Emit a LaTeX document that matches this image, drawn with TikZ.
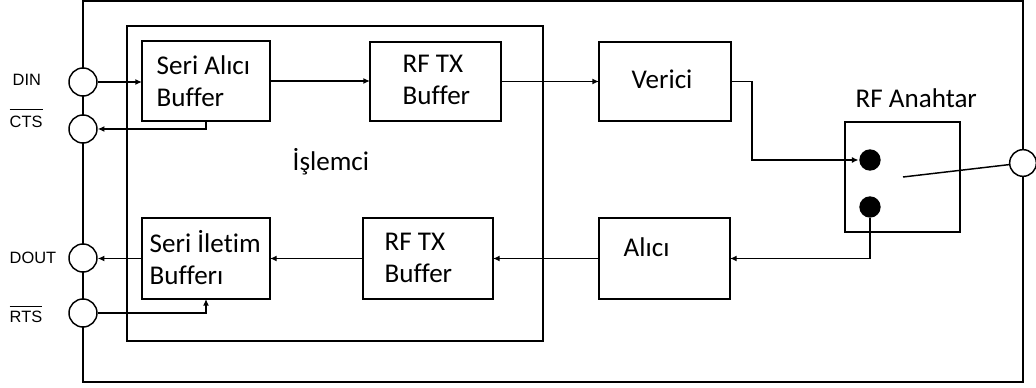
\documentclass[tikz,border=0pt]{standalone}
\usepackage{fontspec}
\setmainfont{Carlito}[Ligatures=CommonOff]
\newfontfamily\labfont{Liberation Sans}
\usetikzlibrary{arrows.meta}
\begin{document}
\begin{tikzpicture}[x=0.75pt,y=-0.75pt,
  line width=1.1pt,
  blk/.style={draw, line width=1.1pt, inner sep=0, outer sep=0},
  txt/.style={font=\fontsize{20.3}{24.5}\selectfont, anchor=base west, inner sep=0, align=left},
  pin/.style={circle, draw, fill=white, minimum size=21pt, inner sep=0, line width=1.1pt},
  dotc/.style={circle, fill=black, minimum size=16pt, inner sep=0},
  lab/.style={font=\labfont\fontsize{12.3}{13}\selectfont, anchor=base west, inner sep=0},
  arr/.style={-{Latex[length=5pt,width=4.5pt]}}
]
\useasboundingbox (0,0) rectangle (1036,388);
% outer module and processor
\node[blk, minimum width=705pt, minimum height=285.75pt] (modul) at (553,191.5) {};
\node[blk, minimum width=312pt, minimum height=236.25pt] (cpu) at (335,183.5) {};
% blocks
\node[blk, minimum width=96pt, minimum height=60pt] (sa) at (206,81) {};
\node[blk, minimum width=98.25pt, minimum height=59.25pt] (tx1) at (435.5,81.5) {};
\node[blk, minimum width=99pt, minimum height=59.25pt] (ver) at (665,81.5) {};
\node[blk, minimum width=96pt, minimum height=60.75pt] (si) at (206,258.5) {};
\node[blk, minimum width=97.5pt, minimum height=60.75pt] (tx2) at (428,258.5) {};
\node[blk, minimum width=98.25pt, minimum height=60.75pt] (ali) at (664.5,258.5) {};
\node[blk, minimum width=86.25pt, minimum height=82.5pt] (sw) at (902.5,177) {};
% pins
\node[pin] (din) at (83,82) {};
\node[pin] (cts) at (83,129) {};
\node[pin] (dout) at (83,258) {};
\node[pin] (rts) at (83,313) {};
\node[pin, minimum size=20pt] (ant) at (1023,163) {};
% switch contacts
\node[dotc] (d1) at (870,160) {};
\node[dotc] (d2) at (870,207) {};
\coordinate (piv) at (903,177);
% texts (multi-line: anchor is the baseline of the last line)
\node[txt] (tsa) at (156,107) {Seri Alıcı\\Buffer};
\node[txt] (ttx1) at (402,105) {RF TX\\Buffer};
\node[txt, anchor=base] (tver) at (662,89) {Verici};
\node[txt] (tsi) at (149,285) {Seri İletim\\Bufferı};
\node[txt] (ttx2) at (384,283) {RF TX\\Buffer};
\node[txt] (tali) at (623,257) {Alıcı};
\node[txt] (tcpu) at (292,171) {İşlemci};
\node[txt] (tsw) at (855,108) {RF Anahtar};
% pin labels
\node[lab] (ldin) at (12,86) {DIN};
\node[lab] (lcts) at (9,128) {$\overline{\hbox{CTS\rule{0pt}{13pt}}}$};
\node[lab] (ldout) at (9,264) {DOUT};
\node[lab] (lrts) at (9,323) {$\overline{\hbox{RTS\rule{0pt}{10.8pt}}}$};
% connectors
\draw[arr] (din.east) -- (din.east -| sa.west);
\draw[arr] (sa.south) |- (cts.east);
\draw[arr] (sa.east) -- (sa.east -| tx1.west);
\draw[arr] (tx1.east) -- (tx1.east -| ver.west);
\draw[arr] (ver.east) -- ++(21,0) |- (d1.west);
\draw (piv) -- (ant);
\draw[arr] (d2.south) |- (ali.east);
\draw[arr] (ali.west) -- (tx2.east);
\draw[arr] (tx2.west) -- (si.east);
\draw[arr] (si.west) -- (si.west -| dout.east);
\draw[arr] (rts.east) -| (si.south);
\end{tikzpicture}
\end{document}
